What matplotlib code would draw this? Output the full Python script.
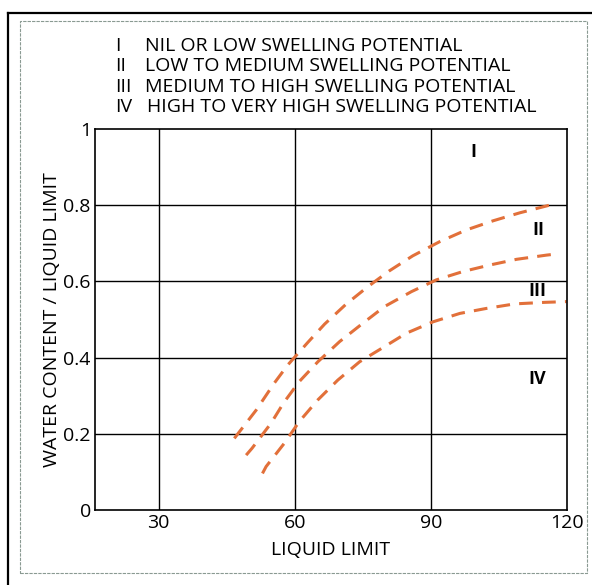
import matplotlib.pyplot as plt
from matplotlib.lines import Line2D
from matplotlib.patches import Rectangle

plt.rcParams['font.family'] = ['Open Sans', 'DejaVu Sans']

# boundary curves
upper_x = [46.7, 47.8, 51.5, 55.5, 58.5, 62.9, 66.6, 71.3, 76.1, 80.9, 86.0,
           91.9, 97.8, 103.7, 109.6, 115.8, 117.7]
upper_y = [0.188, 0.205, 0.262, 0.333, 0.381, 0.440, 0.488, 0.540, 0.586,
           0.628, 0.667, 0.704, 0.735, 0.759, 0.780, 0.799, 0.805]
middle_x = [49.3, 50.6, 54.8, 57.6, 61.0, 65.1, 69.9, 75.0, 79.8, 85.7, 91.2,
            97.1, 103.0, 108.9, 115.5, 117.7]
middle_y = [0.144, 0.162, 0.228, 0.282, 0.337, 0.389, 0.442, 0.490, 0.534,
            0.573, 0.604, 0.626, 0.643, 0.658, 0.669, 0.672]
lower_x = [52.9, 53.7, 57.7, 61.0, 65.1, 69.5, 74.3, 79.4, 84.6, 90.5, 96.4,
           102.2, 108.5, 115.1, 119.9]
lower_y = [0.096, 0.114, 0.175, 0.232, 0.289, 0.341, 0.389, 0.426, 0.464,
           0.494, 0.516, 0.529, 0.541, 0.545, 0.547]

zone_labels = ['I', 'II', 'III', 'IV']
zone_x = [99.3, 113.6, 113.4, 113.4]
zone_y = [0.94, 0.735, 0.575, 0.345]

legend_nums = ['I', 'II', 'III', 'IV']
legend_text = ['NIL OR LOW SWELLING POTENTIAL',
               'LOW TO MEDIUM SWELLING POTENTIAL',
               'MEDIUM TO HIGH SWELLING POTENTIAL',
               'HIGH TO VERY HIGH SWELLING POTENTIAL']

xticks = [30, 60, 90, 120]
yticks = [0, 0.2, 0.4, 0.6, 0.8, 1]
ytick_labels = ['0', '0.2', '0.4', '0.6', '0.8', '1']

fig = plt.figure(figsize=(5.92, 5.85), dpi=100)
ax = fig.add_axes([95/592, 1-510/585, (567-95)/592, (510-129)/585])

col = '#E2703A'
for xs, ys in [(upper_x, upper_y), (middle_x, middle_y), (lower_x, lower_y)]:
    ax.plot(xs, ys, color=col, lw=2.2, dashes=(4.5, 3.0), solid_capstyle='butt')

for gx in [30, 60, 90]:
    ax.axvline(gx, color='black', lw=1.0, zorder=1)
for gy in [0.2, 0.4, 0.6, 0.8]:
    ax.axhline(gy, color='black', lw=1.0, zorder=1)

for lab, zx, zy in zip(zone_labels, zone_x, zone_y):
    ax.text(zx, zy, lab, fontsize=13, fontweight='bold', ha='center', va='center')

ax.set_xlim(16, 120)
ax.set_ylim(0, 1)
ax.set_xticks(xticks)
ax.set_yticks(yticks)
ax.set_yticklabels(ytick_labels)
ax.tick_params(length=0, labelsize=14, pad=3)
for s in ax.spines.values():
    s.set_linewidth(1.2)
ax.set_xlabel('LIQUID LIMIT', fontsize=14, labelpad=6)
ax.set_ylabel('WATER CONTENT / LIQUID LIMIT', fontsize=14, labelpad=2)

line_y = [46, 66, 87, 107]
text_x = [145, 145, 145, 147]
for num, txt, ly, tx in zip(legend_nums, legend_text, line_y, text_x):
    fig.text(115/592, 1-ly/585, num, fontsize=14, va='center', ha='left')
    fig.text(tx/592, 1-ly/585, txt, fontsize=14, va='center', ha='left')

# scanned page frame
fig.add_artist(Line2D([8/592, 1], [1-13/585, 1-13/585], color='black', lw=1.6))
fig.add_artist(Line2D([8/592, 8/592], [0, 1-13/585], color='black', lw=1.6))
fig.add_artist(Rectangle((20/592, 1-573/585), (587-20)/592, (573-21)/585,
                         fill=False, ec='#8a9a92', lw=0.8, ls=(0, (3, 1))))

plt.savefig('out.png', dpi=100)
